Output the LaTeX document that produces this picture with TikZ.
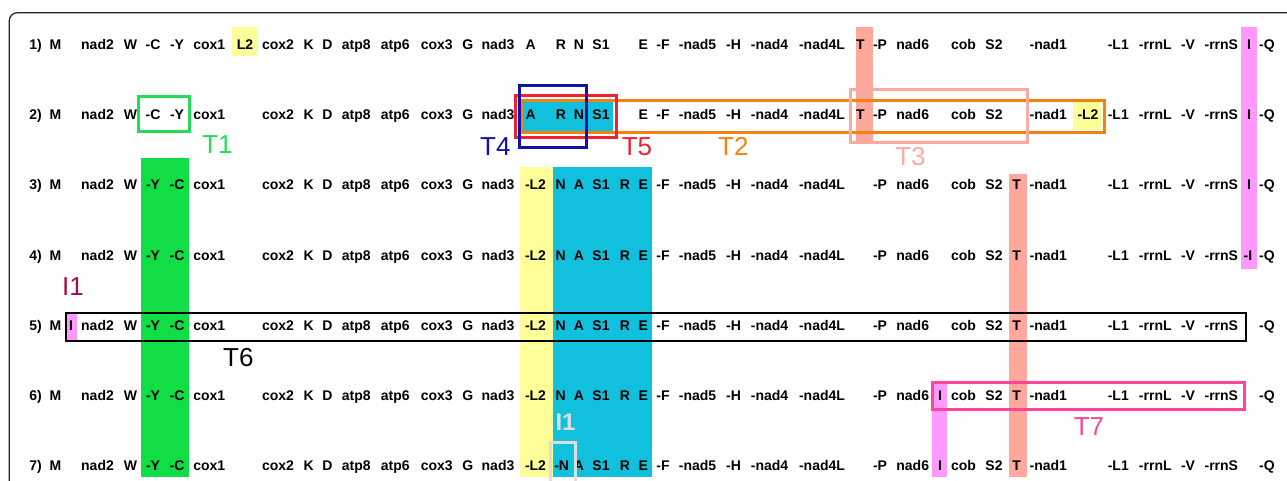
\documentclass[tikz,border=0pt]{standalone}
\usepackage{fontspec}
\setmainfont{Liberation Sans}
\definecolor{hlyellow}{RGB}{255,255,153}
\definecolor{hlcyan}{RGB}{17,192,221}
\definecolor{hlgreen}{RGB}{17,221,68}
\definecolor{hlsalmon}{RGB}{255,168,155}
\definecolor{hlmagenta}{RGB}{255,153,255}
\definecolor{tgreen}{RGB}{34,221,85}
\definecolor{tblue}{RGB}{17,17,170}
\definecolor{tred}{RGB}{238,34,51}
\definecolor{torange}{RGB}{245,130,16}
\definecolor{tsalmon}{RGB}{255,170,160}
\definecolor{tpink}{RGB}{255,68,153}
\definecolor{tmaroon}{RGB}{160,16,74}
\definecolor{tgray}{RGB}{221,221,221}
\tikzset{
  gene/.style={anchor=base, inner sep=0pt, font=\bfseries\fontsize{14}{16}\selectfont},
  tag/.style={anchor=base, inner sep=0pt, font=\fontsize{26}{28}\selectfont},
  trbox/.style={line width=3pt}
}
\begin{document}
\begin{tikzpicture}[x=1pt,y=-1pt]
  \clip (0,0) rectangle (1287,480);
  \draw[line width=1.3pt, black!85, rounded corners=8pt] (9.3,12.7) rectangle (1320,520);
% highlighted columns
  \fill[hlyellow] (232,27.3) rectangle (257.7,55.7);
  \fill[hlyellow] (1073.3,100) rectangle (1100.7,130);
  \fill[hlcyan] (523.3,101) rectangle (613.3,131);
  \fill[hlsalmon] (856,27.3) rectangle (872.7,143.3);
  \fill[hlmagenta] (1241,27.3) rectangle (1256.5,269.3);
  \fill[hlgreen] (141,158.3) rectangle (189,477);
  \fill[hlyellow] (520,167.3) rectangle (552.7,477);
  \fill[hlcyan] (552.7,167.3) rectangle (651.7,477);
  \fill[hlsalmon] (1009.3,174) rectangle (1026.7,477);
  \fill[hlmagenta] (66,312) rectangle (77.3,340.5);
  \fill[hlmagenta] (932.3,383) rectangle (947.3,477);
% row numbers
  \foreach \r/\yb in {1/49.3,2/119.5,3/189.8,4/260,5/330.2,6/400.5,7/470.7}
    \node[gene] (n\r) at (35.5,\yb) {\r)};
% rows 1 and 2
  \foreach \r/\yb in {1/49.3,2/119.5} {
    \foreach \x/\t [count=\k] in {55.5/M, 97.5/nad2, 130.5/W, 153/-C, 177/-Y, 209.3/cox1,
      278/cox2, 308.7/K, 327.5/D, 356.3/atp8, 395.3/atp6, 436.7/cox3, 467.7/G, 498/nad3,
      530.7/A, 560.8/R, 579/N, 601/S1, 643.3/E, 663/-F, 697.5/-nad5, 733.5/-H, 769.5/-nad4,
      822/-nad4L, 860.5/T, 880/-P, 912.7/nad6, 963.5/cob, 994/S2, 1048.3/-nad1, 1118.3/-L1,
      1155.3/-rrnL, 1188/-V, 1221.3/-rrnS, 1249/I, 1267/-Q}
      \node[gene] (g\r-\k) at (\x,\yb) {\t};
  }
  \node[gene] (g1-L2) at (245,49.3) {L2};
  \node[gene] (g2-L2) at (1088,119.5) {-L2};
% rows 3 to 7
  \foreach \r/\yb in {3/189.8,4/260,5/330.2,6/400.5,7/470.7} {
    \foreach \x/\t [count=\k] in {55.5/M, 97.5/nad2, 130.5/W, 153/-Y, 177/-C, 209.3/cox1,
      278/cox2, 308.7/K, 327.5/D, 356.3/atp8, 395.3/atp6, 436.7/cox3, 467.7/G, 498/nad3,
      535.5/-L2, 579/A, 601/S1, 625/R, 643.3/E, 663/-F, 697.5/-nad5, 733.5/-H, 769.5/-nad4,
      822/-nad4L, 880/-P, 912.7/nad6, 963.5/cob, 994/S2, 1016.7/T, 1048.3/-nad1, 1118.3/-L1,
      1155.3/-rrnL, 1188/-V, 1221.3/-rrnS, 1267/-Q}
      \node[gene] (g\r-\k) at (\x,\yb) {\t};
  }
  \foreach \r/\yb in {3/189.8,4/260,5/330.2,6/400.5}
    \node[gene] (g\r-N) at (560.7,\yb) {N};
  \node[gene] (g7-N) at (561.7,470.7) {-N};
  \node[gene] (g3-I) at (1249,189.8) {I};
  \node[gene] (g4-I) at (1248,260) {-I};
  \node[gene] (g5-I) at (71,330.2) {I};
  \node[gene] (g6-I) at (940,400.5) {I};
  \node[gene] (g7-I) at (940,470.7) {I};
% transposition boxes
  \draw[trbox, tgreen] (138.3,96.7) rectangle (189,131);
  \draw[trbox, torange] (521.7,100) rectangle (1104,132.3);
  \draw[trbox, tsalmon] (850.7,89.3) rectangle (1027.3,142.7);
  \draw[trbox, tred] (515.7,95) rectangle (616.7,137.3);
  \draw[trbox, tblue] (519,85) rectangle (586.7,147.7);
  \draw[line width=1.8pt, black] (66,312.7) rectangle (1246,340.7);
  \draw[trbox, tpink] (932.3,382.3) rectangle (1244.3,409);
  \draw[trbox, tgray] (550,442.3) rectangle (575.7,490);
% labels
  \node[tag, tgreen] (t1) at (217.5,153.3) {T1};
  \node[tag, tblue] (t4) at (495.3,155) {T4};
  \node[tag, tred] (t5) at (637,155) {T5};
  \node[tag, torange] (t2) at (733.3,155) {T2};
  \node[tag, tsalmon] (t3) at (910.5,165.7) {T3};
  \node[tag, tmaroon] (i1a) at (73,295) {I1};
  \node[tag, black] (t6) at (238.3,366.7) {T6};
  \node[tag, tgray, font=\bfseries\fontsize{24}{26}\selectfont] (i1b) at (565.5,430.7) {I1};
  \node[tag, tpink] (t7) at (1089,435) {T7};
\end{tikzpicture}
\end{document}
